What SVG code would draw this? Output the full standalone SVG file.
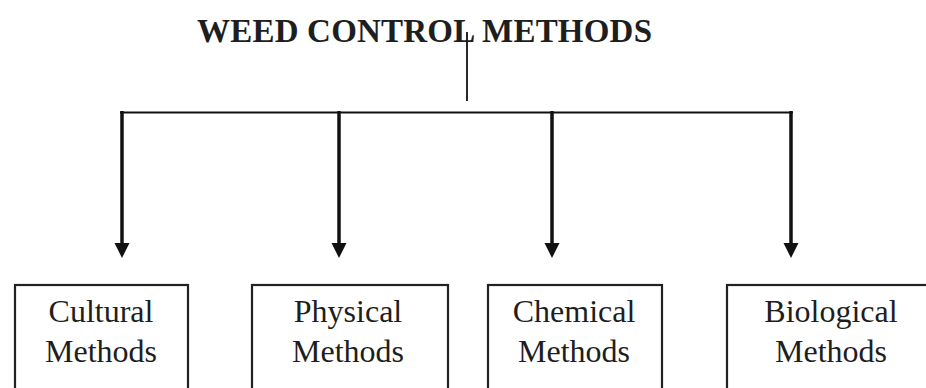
<svg xmlns="http://www.w3.org/2000/svg" width="926" height="388" viewBox="0 0 926 388">
<defs>
<style>
.t{font-family:"Liberation Serif","Times New Roman",serif;fill:#1e1e1e;}
.title{font-size:33px;font-weight:bold;}
.lbl{font-size:32px;text-anchor:middle;}
.box{fill:#fff;stroke:#222;stroke-width:2.2;}
.ln{stroke:#111;fill:none;}
.ah{fill:#111;}
</style>
</defs>
<rect width="926" height="388" fill="#fff"/>
<g id="title">
<text class="t title" x="197" y="42" textLength="455" lengthAdjust="spacing">WEED CONTROL METHODS</text>
</g>
<g id="connectors">
<line class="ln" x1="467" y1="32" x2="467" y2="101" stroke-width="1.8"/>
<line class="ln" x1="120" y1="112.5" x2="793" y2="112.5" stroke-width="2.2"/>
<line class="ln" x1="122" y1="111" x2="122" y2="244" stroke-width="3.5"/>
<line class="ln" x1="339" y1="111" x2="339" y2="244" stroke-width="3.5"/>
<line class="ln" x1="552" y1="111" x2="552" y2="244" stroke-width="3.5"/>
<line class="ln" x1="791" y1="111" x2="791" y2="244" stroke-width="3.5"/>
<path class="ah" d="M114.5,243 L129.5,243 L122,258 Z"/>
<path class="ah" d="M331.5,243 L346.5,243 L339,258 Z"/>
<path class="ah" d="M544.5,243 L559.5,243 L552,258 Z"/>
<path class="ah" d="M783.5,243 L798.5,243 L791,258 Z"/>
</g>
<g id="cultural">
<rect class="box" x="15" y="285" width="173" height="120"/>
<text class="t lbl" x="101" y="322">Cultural</text>
<text class="t lbl" x="101" y="362">Methods</text>
</g>
<g id="physical">
<rect class="box" x="252" y="285" width="196" height="120"/>
<text class="t lbl" x="348" y="322">Physical</text>
<text class="t lbl" x="348" y="362">Methods</text>
</g>
<g id="chemical">
<rect class="box" x="488" y="285" width="174" height="120"/>
<text class="t lbl" x="574" y="322">Chemical</text>
<text class="t lbl" x="574" y="362">Methods</text>
</g>
<g id="biological">
<rect class="box" x="727" y="285" width="210" height="120"/>
<text class="t lbl" x="831" y="322">Biological</text>
<text class="t lbl" x="831" y="362">Methods</text>
</g>
</svg>
